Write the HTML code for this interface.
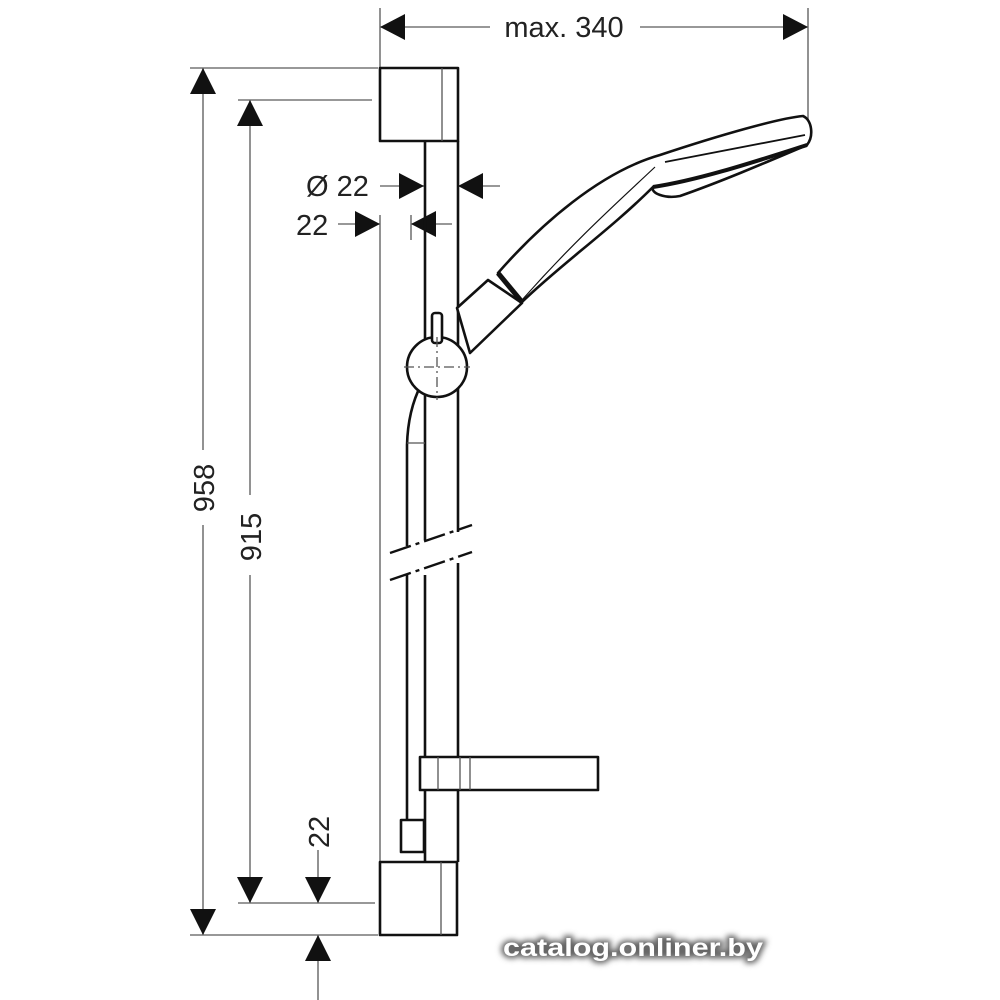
<!DOCTYPE html>
<html><head><meta charset="utf-8"><style>
html,body{margin:0;padding:0;background:#fff;}
svg{display:block;}
.t{font-family:"Liberation Sans",sans-serif;font-size:29px;fill:#222;}
</style></head><body>
<svg width="1000" height="1000" viewBox="0 0 1000 1000" xmlns="http://www.w3.org/2000/svg">
<defs><filter id="b" x="-10%" y="-50%" width="120%" height="200%"><feGaussianBlur stdDeviation="3"/></filter></defs>
<g stroke="#777" stroke-width="1.6" fill="none">
<line x1="380" y1="8" x2="380" y2="68"/>
<line x1="808" y1="8" x2="808" y2="125"/>
<line x1="190" y1="68" x2="378" y2="68"/>
<line x1="238" y1="100" x2="372" y2="100"/>
<line x1="190" y1="935" x2="378" y2="935"/>
<line x1="238" y1="903" x2="375" y2="903"/>
<line x1="380" y1="215" x2="380" y2="935"/>
<line x1="411" y1="215" x2="411" y2="240"/>
<line x1="380" y1="27" x2="490" y2="27"/>
<line x1="640" y1="27" x2="808" y2="27"/>
<line x1="203" y1="68" x2="203" y2="450"/>
<line x1="203" y1="525" x2="203" y2="935"/>
<line x1="250" y1="100" x2="250" y2="495"/>
<line x1="250" y1="575" x2="250" y2="903"/>
<line x1="380" y1="186" x2="424" y2="186"/>
<line x1="458" y1="186" x2="500" y2="186"/>
<line x1="338" y1="224" x2="380" y2="224"/>
<line x1="411" y1="224" x2="452" y2="224"/>
<line x1="318" y1="850" x2="318" y2="903"/>
<line x1="318" y1="935" x2="318" y2="1000"/>
</g>
<g fill="#111">
<polygon points="380,27 405,14 405,40"/>
<polygon points="808,27 783,14 783,40"/>
<polygon points="203,68 190,94 216,94"/>
<polygon points="203,935 190,909 216,909"/>
<polygon points="250,100 237,126 263,126"/>
<polygon points="250,903 237,877 263,877"/>
<polygon points="424,186 399,173 399,199"/>
<polygon points="458,186 483,173 483,199"/>
<polygon points="380,224 355,211 355,237"/>
<polygon points="411,224 436,211 436,237"/>
<polygon points="318,903 305,877 331,877"/>
<polygon points="318,935 305,961 331,961"/>
</g>
<text class="t" x="564" y="37" text-anchor="middle">max. 340</text>
<text class="t" x="306" y="196">Ø 22</text>
<text class="t" x="296" y="235">22</text>
<text class="t" transform="translate(214,488) rotate(-90)" text-anchor="middle">958</text>
<text class="t" transform="translate(261,537) rotate(-90)" text-anchor="middle">915</text>
<text class="t" transform="translate(329,832) rotate(-90)" text-anchor="middle">22</text>

<g stroke="#111" stroke-width="2.6" fill="#fff" stroke-linejoin="round">
<rect x="380" y="68" width="78" height="73"/>
<rect x="380" y="862" width="77" height="73"/>
<line x1="425" y1="141" x2="425" y2="540"/>
<line x1="458" y1="141" x2="458" y2="532"/>
<line x1="425" y1="575" x2="425" y2="862"/>
<line x1="458" y1="563" x2="458" y2="862"/>
<path d="M421,385 Q408,410 407,445 L407,546" fill="none"/>
<line x1="407" y1="575" x2="407" y2="820"/>
<rect x="401" y="820" width="23" height="32"/>
<rect x="420" y="757" width="178" height="33"/>
<polygon points="457,308 488,280 522,303 470,353"/>
<path d="M498,273 C540,225 600,172 660,155 C720,135 780,118 803,116 C812,120 814,136 807,145 C760,165 720,182 680,196 C665,199 650,193 653,187 C610,230 560,265 522,302 Z"/>
<path d="M653,187 C700,180 760,160 807,145" fill="none" stroke-width="4"/>
<path d="M665,162 L805,135" fill="none" stroke-width="1.8"/>
<path d="M655,167 C620,200 575,240 522,300" fill="none" stroke-width="1.2"/>
<line x1="498" y1="273" x2="522" y2="302" stroke-width="5"/>
<circle cx="437" cy="367" r="30"/>
<rect x="432" y="313" width="10" height="30" rx="3"/>
</g>
<g stroke="#555" stroke-width="1.3">
<line x1="442" y1="68" x2="442" y2="141"/>
<line x1="441" y1="862" x2="441" y2="935"/>
<line x1="438" y1="757" x2="438" y2="790"/>
<line x1="460" y1="757" x2="460" y2="790"/>
<line x1="470" y1="757" x2="470" y2="790"/>
<line x1="404" y1="367" x2="470" y2="367" stroke-dasharray="10,4,2,4"/>
<line x1="437" y1="337" x2="437" y2="400" stroke-dasharray="10,4,2,4"/>
<line x1="407" y1="443" x2="425" y2="443"/>
</g>
<g stroke="#111" stroke-width="2.4">
<line x1="390" y1="553" x2="472" y2="525" stroke-dasharray="22,5,4,5"/>
<line x1="390" y1="580" x2="472" y2="552" stroke-dasharray="22,5,4,5"/>
</g>
<text x="503" y="956" textLength="260" lengthAdjust="spacingAndGlyphs" font-family="Liberation Sans,sans-serif" font-weight="bold" font-size="25" fill="#666" stroke="#666" stroke-width="5" filter="url(#b)">catalog.onliner.by</text>
<text x="503" y="956" textLength="260" lengthAdjust="spacingAndGlyphs" font-family="Liberation Sans,sans-serif" font-weight="bold" font-size="25" fill="#fff">catalog.onliner.by</text>
</svg>
</body></html>
